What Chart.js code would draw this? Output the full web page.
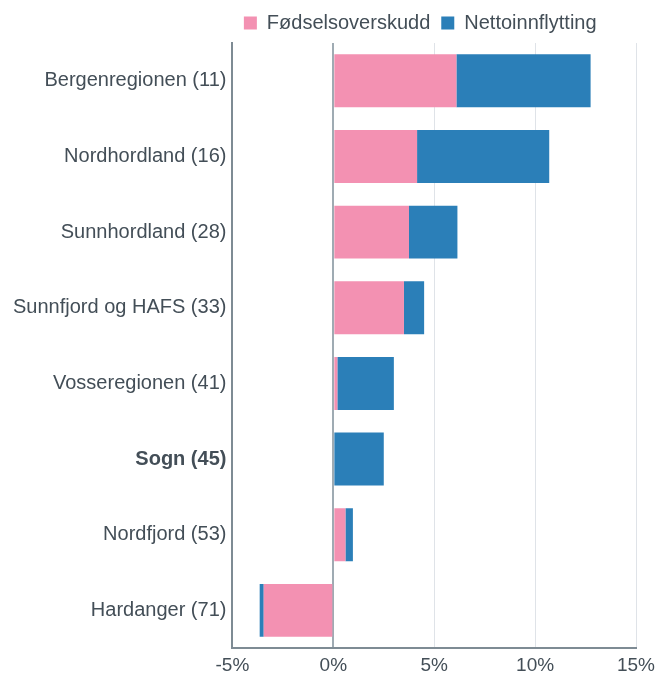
<!DOCTYPE html>
<html>
<head>
<meta charset="utf-8">
<script src="https://cdn.jsdelivr.net/npm/chart.js@4"></script>
<style>
  body { margin: 0; background: #fff; }
  #wrap { width: 656px; height: 675px; }
</style>
</head>
<body>
<div id="wrap"><canvas id="myChart" width="656" height="675"></canvas></div>
<script>
// regioner (rangering i parentes)
var regioner = ['Bergenregionen (11)', 'Nordhordland (16)', 'Sunnhordland (28)', 'Sunnfjord og HAFS (33)',
  'Vosseregionen (41)', 'Sogn (45)', 'Nordfjord (53)', 'Hardanger (71)'];

// prosent
var fodselsoverskudd = [6.1, 4.15, 3.75, 3.5, 0.2, 0.05, 0.6, -3.45];
var nettoinnflytting = [6.65, 6.55, 2.4, 1.0, 2.8, 2.45, 0.37, -0.2];

var xTicks = [-5, 0, 5, 10, 15];

var tekstFarge = '#434e57';
var fontNavn = '"Liberation Sans", Arial, sans-serif';

var ctx = document.getElementById('myChart').getContext('2d');

// flytt legenden litt mot venstre
var flyttLegend = {
  id: 'flyttLegend',
  afterLayout: function (chart) {
    chart.legend.left -= 14;
    chart.legend.right -= 14;
  }
};

var myChart = new Chart(ctx, {
  type: 'bar',
  data: {
    labels: regioner,
    datasets: [{
      label: 'Fødselsoverskudd',
      data: fodselsoverskudd,
      backgroundColor: '#f391b2',
      borderWidth: 0
    }, {
      label: 'Nettoinnflytting',
      data: nettoinnflytting,
      backgroundColor: '#2b7fb8',
      borderWidth: 0
    }]
  },
  plugins: [flyttLegend],
  options: {
    indexAxis: 'y',
    responsive: false,
    animation: false,
    layout: { padding: { left: 7, right: 0, top: 2, bottom: -8 } },
    datasets: {
      bar: { categoryPercentage: 0.7, barPercentage: 1 }
    },
    plugins: {
      tooltip: { enabled: false },
      legend: {
        position: 'top',
        fullSize: false,
        labels: {
          boxWidth: 13,
          boxHeight: 13,
          color: tekstFarge,
          padding: 11,
          font: { family: fontNavn, size: 20 }
        }
      }
    },
    scales: {
      x: {
        stacked: true,
        min: -5,
        max: 15,
        afterBuildTicks: function (axis) {
          axis.ticks = xTicks.map(function (v) { return { value: v }; });
        },
        afterFit: function (scale) {
          scale.paddingRight = 20;
        },
        ticks: {
          color: tekstFarge,
          padding: 6,
          font: { family: fontNavn, size: 19 },
          callback: function (v) { return v + '%'; }
        },
        grid: {
          drawTicks: false,
          color: function (c) {
            return c.tick && c.tick.value === 0 ? '#9fabb3' : '#dfe3e8';
          },
          lineWidth: function (c) {
            return c.tick && c.tick.value === 0 ? 2 : 1;
          }
        },
        border: { color: '#7e8b94', width: 2 }
      },
      y: {
        stacked: true,
        ticks: {
          color: tekstFarge,
          padding: 6,
          font: function (c) {
            return {
              family: fontNavn,
              size: 20,
              weight: c.index === 5 ? 'bold' : 'normal'
            };
          }
        },
        grid: { display: false, drawTicks: false },
        border: { color: '#7e8b94', width: 2 }
      }
    }
  }
});
</script>
</body>
</html>
